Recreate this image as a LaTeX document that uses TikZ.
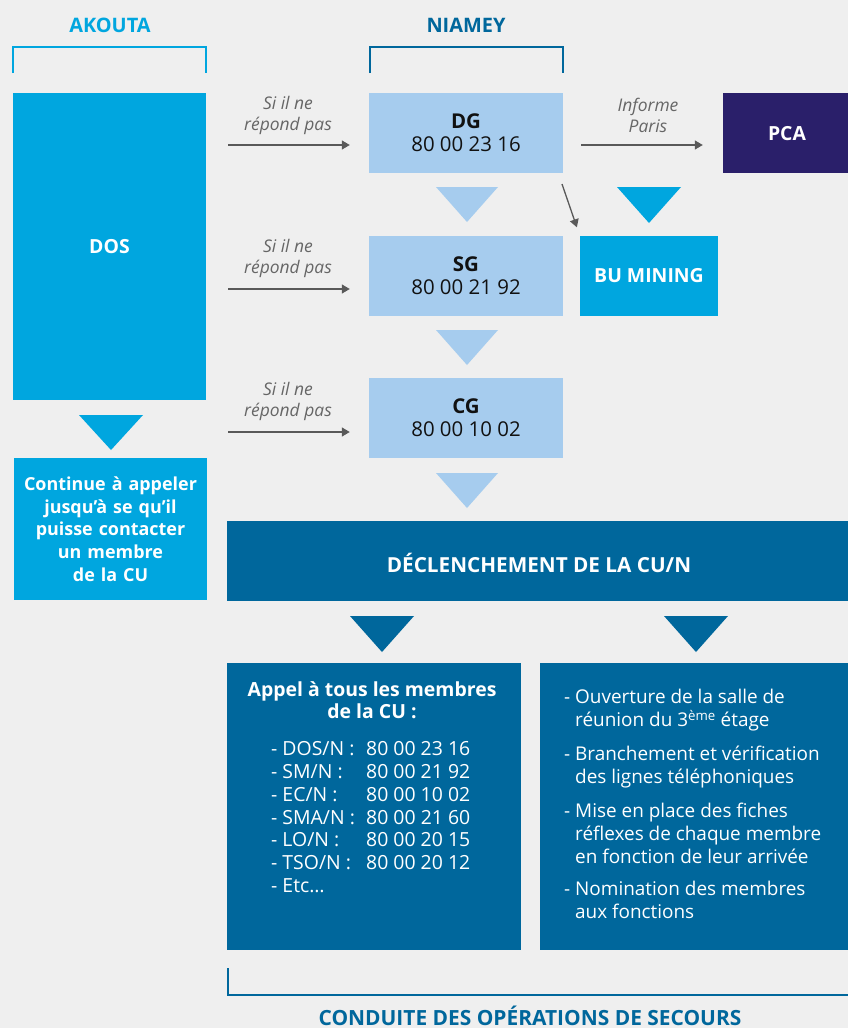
\documentclass[tikz,border=0pt]{standalone}
\usepackage{fontspec}
\setmainfont{Open Sans}
\newfontfamily\headfont{Open Sans}
\usetikzlibrary{arrows.meta}
\definecolor{bgc}{HTML}{EFEFEF}
\definecolor{cyanB}{HTML}{00A6DF}
\definecolor{lightB}{HTML}{A6CCEE}
\definecolor{darkB}{HTML}{00679C}
\definecolor{navyB}{HTML}{2A1F6A}
\definecolor{arrG}{HTML}{595959}
\definecolor{txtG}{HTML}{666666}
\definecolor{txtK}{HTML}{111111}
\newcommand\memline[2]{\makebox[95bp][l]{#1}#2}
\begin{document}
\begin{tikzpicture}[x=1bp,y=-1bp,
  boxnode/.style={rectangle,inner sep=0pt,draw=none},
  arr/.style={draw=arrG,line width=1.3bp,-{Triangle[length=8bp,width=9bp]}},
  lbl/.style={text=txtG,font=\fontsize{17.5}{21}\selectfont\itshape,align=center,inner sep=0pt},
  wbold/.style={text=white,font=\fontsize{19.5}{22.75}\selectfont\bfseries,align=center,inner sep=0pt},
  head/.style={font=\headfont\fontsize{20}{22}\selectfont\bfseries,inner sep=0pt},
  numtxt/.style={text=txtK,font=\fontsize{20.5}{23}\selectfont,align=center,inner sep=0pt},
  body/.style={text=white,font=\fontsize{19}{23}\selectfont,inner sep=0pt}
]
\fill[bgc] (0,0) rectangle (848,1028);
\useasboundingbox (0,0) rectangle (848,1028);

% titles and brackets
\node[head,text=cyanB] (tAk) at (110,25) {AKOUTA};
\node[head,text=darkB] (tNi) at (466,25) {NIAMEY};
\draw[cyanB,line width=2bp] (12.5,73) -- (12.5,46.5) -- (206,46.5) -- (206,73);
\draw[darkB,line width=2bp] (369.5,73) -- (369.5,46.5) -- (563,46.5) -- (563,73);

% AKOUTA column
\node[boxnode,fill=cyanB,minimum width=193bp,minimum height=307bp] (dos) at (109.5,246.5) {};
\node[wbold] (dosT) at (dos.center) {DOS};
\fill[cyanB] (79,415) -- (143,415) -- (111,450) -- cycle;
\node[boxnode,fill=cyanB,minimum width=193bp,minimum height=142bp] (cont) at (110.5,529) {};
\node[wbold,font=\fontsize{18}{22.75}\selectfont\bfseries,text width=192bp] (contT) at (cont.center)
  {Continue à appeler\\jusqu’à se qu’il\\puisse contacter\\un membre\\de la CU};

% NIAMEY column
\node[boxnode,fill=lightB,minimum width=194bp,minimum height=80bp] (dg) at (466,133) {};
\node[numtxt] (dgT) at (dg.center) {\textbf{DG}\\80 00 23 16};
\node[boxnode,fill=lightB,minimum width=194bp,minimum height=80bp] (sg) at (466,276) {};
\node[numtxt] (sgT) at (sg.center) {\textbf{SG}\\80 00 21 92};
\node[boxnode,fill=lightB,minimum width=194bp,minimum height=80bp] (cg) at (466,418) {};
\node[numtxt] (cgT) at (cg.center) {\textbf{CG}\\80 00 10 02};
\fill[lightB] (436,187) -- (498,187) -- (467,222) -- cycle;
\fill[lightB] (436,330) -- (498,330) -- (467,365) -- cycle;
\fill[lightB] (436,473) -- (498,473) -- (467,508) -- cycle;

% PCA and BU
\node[boxnode,fill=navyB,minimum width=125bp,minimum height=80bp] (pca) at (785.5,133) {};
\node[wbold] (pcaT) at (787,134) {PCA};
\fill[cyanB] (617,187) -- (681,187) -- (649,223) -- cycle;
\node[boxnode,fill=cyanB,minimum width=138bp,minimum height=80bp] (bu) at (649,276) {};
\node[wbold] (buT) at (bu.center) {BU MINING};

% arrows with labels
\coordinate (s1) at (228,145);
\coordinate (s2) at (228,289);
\coordinate (s3) at (228,432);
\draw[arr,shorten >=19bp] (s1) -- (s1 -| dg.west);
\draw[arr,shorten >=19bp] (s2) -- (s2 -| sg.west);
\draw[arr,shorten >=19bp] (s3) -- (s3 -| cg.west);
\node[lbl] (l1) at (288,115) {Si il ne\\répond pas};
\node[lbl] (l2) at (288,258) {Si il ne\\répond pas};
\node[lbl] (l3) at (288,401) {Si il ne\\répond pas};
\coordinate (s4) at (581,145);
\draw[arr,shorten >=20bp] (s4) -- (s4 -| pca.west);
\node[lbl] (l4) at (648,115) {Informe\\Paris};
\coordinate (d1) at (562,184);
\draw[arr,shorten >=9bp] (d1) -- (bu.north west);

% declenchement
\node[boxnode,fill=darkB,minimum width=621bp,minimum height=80bp] (decl) at (537.5,561) {};
\node[head,text=white,font=\headfont\fontsize{20.8}{22}\selectfont\bfseries] (declT) at (539,563) {DÉCLENCHEMENT DE LA CU/N};
\fill[darkB] (350,616) -- (414,616) -- (382,652) -- cycle;
\fill[darkB] (664,616) -- (728,616) -- (696,652) -- cycle;

% bottom boxes
\node[boxnode,fill=darkB,minimum width=294bp,minimum height=287bp] (lb) at (374,806.5) {};
\node[body,font=\fontsize{19.5}{22}\selectfont\bfseries,align=center,anchor=north] (lbT) at (372,681)
  {Appel à tous les membres\\de la CU :};
\node[body,font=\fontsize{19.5}{23}\selectfont,align=left,anchor=north west] (lbL) at (271,741)
  {\memline{- DOS/N :}{80 00 23 16}\\
   \memline{- SM/N :}{80 00 21 92}\\
   \memline{- EC/N :}{80 00 10 02}\\
   \memline{- SMA/N :}{80 00 21 60}\\
   \memline{- LO/N :}{80 00 20 15}\\
   \memline{- TSO/N :}{80 00 20 12}\\
   - Etc…};
\node[boxnode,fill=darkB,minimum width=308bp,minimum height=287bp] (rb) at (694,806.5) {};
\node[body,align=left,anchor=north west] (rbT) at (564,689)
  {- Ouverture de la salle de\\
   \phantom{- }réunion du 3\textsuperscript{ème} étage\\[11bp]
   - Branchement et vérification\\
   \phantom{- }des lignes téléphoniques\\[11bp]
   - Mise en place des fiches\\
   \phantom{- }réflexes de chaque membre\\
   \phantom{- }en fonction de leur arrivée\\[10bp]
   - Nomination des membres\\
   \phantom{- }aux fonctions};

% bottom bracket
\draw[darkB,line width=2bp] (227.5,968) -- (227.5,995) -- (848,995);
\node[head,text=darkB,anchor=base,font=\headfont\fontsize{21}{22}\selectfont\bfseries] (tCo) at (530,1025.5) {CONDUITE DES OPÉRATIONS DE SECOURS};
\end{tikzpicture}
\end{document}
